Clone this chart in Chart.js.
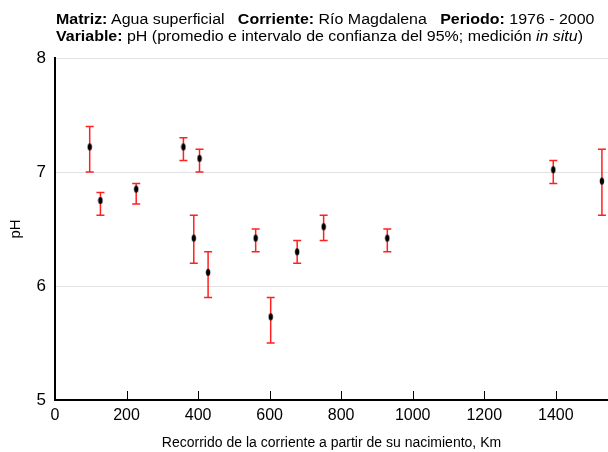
<!DOCTYPE html>
<html>
<head>
<meta charset="utf-8">
<script src="https://cdn.jsdelivr.net/npm/chart.js@4/dist/chart.umd.min.js"></script>
<style>
  html, body { margin: 0; padding: 0; background: #fff; }
  #wrap { position: relative; width: 608px; height: 452px; overflow: hidden; }
  #title {
    position: absolute; left: 56px; top: 11px;
    font-family: "Liberation Sans", Arial, sans-serif;
    font-size: 14px; line-height: 17.4px; color: #000; white-space: nowrap;
    transform: scaleX(1.14); transform-origin: 0 0;
  }
  canvas { position: absolute; left: 0; top: 0; }
</style>
</head>
<body>
<div id="wrap">
  <canvas id="chart" width="608" height="452"></canvas>
  <div id="title">
    <b>Matriz:</b> Agua superficial &nbsp;&nbsp;<b>Corriente:</b> Río Magdalena &nbsp;&nbsp;<b>Periodo:</b> 1976 - 2000<br>
    <b>Variable:</b> pH (promedio e intervalo de confianza del 95%; medición <i>in situ</i>)
  </div>
</div>
<script>
// distance from the source, km
const km = [97, 127, 227, 359, 404, 388, 428, 561, 603, 677, 751, 929, 1393, 1529];
// mean pH and 95% confidence limits
const phMean  = [7.22, 6.75, 6.85, 7.22, 7.12, 6.42, 6.12, 6.42, 5.73, 6.30, 6.52, 6.42, 7.02, 6.92];
const phUpper = [7.40, 6.82, 6.90, 7.30, 7.20, 6.62, 6.30, 6.50, 5.90, 6.40, 6.62, 6.50, 7.10, 7.20];
const phLower = [7.00, 6.62, 6.72, 7.10, 7.00, 6.20, 5.90, 6.30, 5.50, 6.20, 6.40, 6.30, 6.90, 6.62];

const FONT = '"Liberation Sans", Arial, sans-serif';

// small upright ellipse used as the point marker
const dot = document.createElement('canvas');
dot.width = 6; dot.height = 9;
{
  const c = dot.getContext('2d');
  c.fillStyle = '#000';
  c.beginPath();
  c.ellipse(3, 4.5, 2.2, 3.6, 0, 0, Math.PI * 2);
  c.fill();
}

const errorBars = {
  id: 'errorBars',
  beforeDatasetsDraw(chart) {
    const { ctx, scales: { x, y } } = chart;
    ctx.save();
    ctx.strokeStyle = '#ff2020';
    ctx.lineWidth = 1.5;
    km.forEach((k, i) => {
      const px = x.getPixelForValue(k);
      const top = y.getPixelForValue(phUpper[i]);
      const bot = y.getPixelForValue(phLower[i]);
      ctx.beginPath();
      ctx.moveTo(px, top); ctx.lineTo(px, bot);
      ctx.moveTo(px - 4, top); ctx.lineTo(px + 4, top);
      ctx.moveTo(px - 4, bot); ctx.lineTo(px + 4, bot);
      ctx.stroke();
    });
    ctx.restore();
  }
};

// x ticks pointing up into the plot
const innerTicks = {
  id: 'innerTicks',
  afterDraw(chart) {
    const { ctx, scales: { x } } = chart;
    ctx.save();
    ctx.strokeStyle = '#000';
    ctx.lineWidth = 1;
    x.ticks.forEach((t, i) => {
      if (t.value === 0) return;
      const px = Math.round(x.getPixelForTick(i)) + 0.5;
      ctx.beginPath();
      ctx.moveTo(px, x.top);
      ctx.lineTo(px, x.top - 9);
      ctx.stroke();
    });
    ctx.restore();
  }
};

new Chart(document.getElementById('chart'), {
  type: 'scatter',
  data: {
    datasets: [{
      label: 'pH',
      data: km.map((k, i) => ({ x: k, y: phMean[i] })),
      pointStyle: dot,
      pointRadius: 4,
      pointHoverRadius: 4
    }]
  },
  options: {
    responsive: false,
    animation: false,
    layout: { autoPadding: false, padding: { top: 58, right: 0, left: 0, bottom: 0 } },
    plugins: {
      legend: { display: false },
      tooltip: { enabled: false }
    },
    scales: {
      x: {
        type: 'linear',
        min: 0,
        max: 1546,
        ticks: {
          stepSize: 200,
          includeBounds: false,
          color: '#000',
          padding: 6,
          maxRotation: 0,
          font: { family: FONT, size: 16 },
          callback: v => String(v)
        },
        grid: { drawOnChartArea: false, drawTicks: false },
        border: { color: '#000', width: 2 },
        title: {
          display: true,
          text: 'Recorrido de la corriente a partir de su nacimiento, Km',
          color: '#000',
          font: { family: FONT, size: 14 },
          padding: { top: 4, bottom: 0 }
        },
        afterFit(scale) { scale.height = 52; }
      },
      y: {
        min: 5,
        max: 8,
        ticks: {
          stepSize: 1,
          color: '#000',
          padding: 9,
          font: { family: FONT, size: 17 }
        },
        grid: { color: '#e2e2e2', drawTicks: false },
        border: { color: '#000', width: 2 },
        title: {
          display: true,
          text: 'pH',
          color: '#000',
          font: { family: FONT, size: 15 },
          padding: { top: 7, bottom: 0 }
        },
        afterFit(scale) { scale.width = 55; }
      }
    }
  },
  plugins: [errorBars, innerTicks]
});
</script>
</body>
</html>
